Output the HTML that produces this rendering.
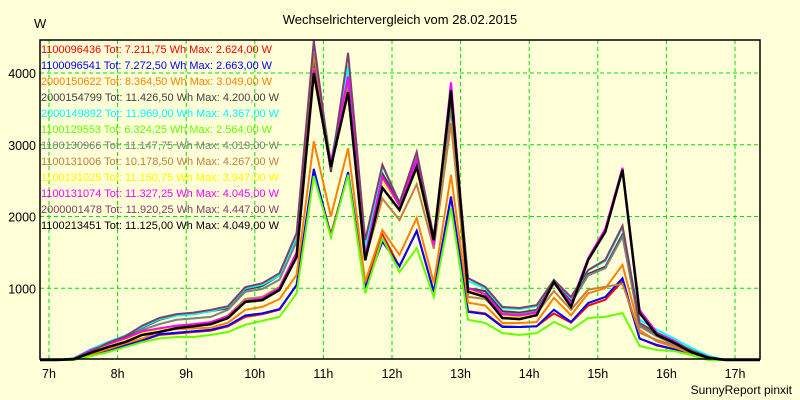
<!DOCTYPE html>
<html><head><meta charset="utf-8">
<style>
html,body{margin:0;padding:0;background:#ffffd8;}
svg{display:block;font-family:"Liberation Sans",sans-serif;}
</style></head>
<body>
<svg id="chart" width="800" height="400" viewBox="0 0 800 400" xmlns="http://www.w3.org/2000/svg">
<rect x="0" y="0" width="800" height="400" fill="#ffffd8"/>
<text x="400" y="24" text-anchor="middle" font-size="13" fill="#000">Wechselrichtervergleich vom 28.02.2015</text>
<text x="34" y="28" font-size="13" fill="#000">W</text>
<text x="792" y="394" text-anchor="end" font-size="12" fill="#000">SunnyReport pinxit</text>
<g id="grid"></g>
<g id="series"></g>
<g id="axes"></g>
<g id="legend"></g>
</svg>
<script>
const hourLabels = ["7h","8h","9h","10h","11h","12h","13h","14h","15h","16h","17h"];
const yTicks = [1000,2000,3000,4000];
const seriesNames = ["1100096436","1100096541","2000150622","2000154799","2000149892","1100129553","1100130966","1100131006","1100131025","1100131074","2000001478","1100213451"];
const seriesTotals = ["7.211,75","7.272,50","8.364,50","11.426,50","11.969,00","6.324,25","11.147,75","10.178,50","11.150,75","11.327,25","11.920,25","11.125,00"];
const seriesMax = ["2.624,00","2.663,00","3.049,00","4.200,00","4.367,00","2.564,00","4.019,00","4.267,00","3.947,00","4.045,00","4.447,00","4.049,00"];
const seriesColors = ["#ff0000","#0000ff","#ff8000","#404040","#00ffff","#66ff00","#808080","#c08040","#ffff00","#ff00ff","#804066","#000000"];
const sampleCount = 40;
const red = [0,5,60,120,200,270,350,370,390,410,470,600,640,700,1045,2624,1750,2600,1000,1750,1300,1800,950,2280,680,650,470,460,470,650,520,760,840,1100,300,200,150,80,20,0];
const blue = [0,5,65,125,205,275,360,380,400,420,480,620,650,710,1045,2663,1720,2620,1000,1650,1310,1800,950,2270,670,640,460,460,470,700,530,795,880,1140,300,210,150,80,20,0];
const orange = [0,5,80,150,230,300,400,430,440,450,520,700,740,850,1185,3049,2000,2950,1090,1810,1465,1980,1075,2580,800,760,515,515,530,865,625,930,1000,1325,420,260,180,90,20,0];
const darkgray = [0,10,110,220,310,450,560,620,640,680,720,980,1030,1180,1700,4200,2620,4100,1550,2600,2200,2800,1650,3600,1000,960,680,660,700,1090,820,1200,1300,1750,480,340,230,120,30,0];
const cyan = [0,25,150,250,340,460,570,620,640,680,740,1000,1050,1180,1700,4300,2750,4100,1550,2700,2200,2850,1700,3700,1100,1000,720,710,750,1120,860,1250,1380,1850,560,420,300,170,60,0];
const green = [0,0,55,110,180,250,300,320,320,350,390,490,545,600,930,2564,1715,2580,930,1700,1225,1560,880,2120,560,515,375,350,375,530,420,585,600,655,195,140,125,70,0,0];
const gray = [0,10,110,210,290,420,500,560,580,600,700,950,990,1120,1650,4019,2650,3900,1450,2500,2150,2750,1650,3500,950,900,650,640,680,1060,790,1180,1280,1720,470,330,220,110,30,0];
const brown = [0,10,110,190,270,380,430,470,490,520,620,850,880,1020,1500,4267,2750,3800,1400,2250,1950,2450,1550,3300,880,850,620,620,650,960,700,980,1020,1060,380,280,200,100,30,0];
const yellow = [0,15,120,200,280,380,420,460,490,520,600,800,850,990,1450,3950,2700,3700,1420,2500,2150,2650,1650,3700,980,900,610,590,640,1080,760,1400,1790,2640,680,360,250,120,35,0];
const magenta = [0,20,140,220,300,400,440,480,500,530,610,820,860,1000,1500,4045,2750,3950,1450,2550,2150,2800,1600,3870,1000,920,640,620,660,1100,780,1420,1830,2680,700,380,270,130,40,0];
const purple = [0,20,120,240,330,480,585,640,660,700,750,1015,1070,1210,1770,4447,2650,4280,1670,2720,2190,2900,1710,3670,1140,1020,740,725,765,1115,880,1255,1395,1870,515,375,250,140,40,0];
const black = [0,10,100,180,250,350,390,445,470,500,585,810,835,975,1435,4000,2690,3735,1390,2400,2090,2690,1670,3760,950,880,585,570,625,1090,740,1395,1785,2650,655,350,240,110,30,0];
const seriesValues = [red,blue,orange,darkgray,cyan,green,gray,brown,yellow,magenta,purple,black];

const NS = "http://www.w3.org/2000/svg";
const L = 40, R = 760, T = 40, B = 359;
function xScale(h){ return 49 + h * 68.6; }
function yScale(v){ return 360 - v * 0.07175; }
function sampleHour(k){ return 0.11 + k * 0.25; }
function mk(tag, attrs){ const e = document.createElementNS(NS, tag); for (const k in attrs) e.setAttribute(k, attrs[k]); return e; }

const grid = document.getElementById('grid');
const axes = document.getElementById('axes');
const seriesG = document.getElementById('series');
const legend = document.getElementById('legend');

hourLabels.forEach((lab, i) => {
  const x = xScale(i);
  const gl = mk('line', {x1:x, y1:T, x2:x, y2:B, stroke:'#00e000', 'stroke-dasharray':'4,3', 'stroke-width':1});
  
  
  grid.appendChild(gl);
  const t = mk('text', {x:x, y:378, 'text-anchor':'middle', 'font-size':12.5, fill:'#000'});
  t.textContent = lab;
  
  
  axes.appendChild(t);
});
yTicks.forEach(v => {
  const y = yScale(v);
  const gl = mk('line', {x1:L, y1:y, x2:R, y2:y, stroke:'#00e000', 'stroke-dasharray':'4,3', 'stroke-width':1});
  
  
  grid.appendChild(gl);
  const t = mk('text', {x:36, y:y+5, 'text-anchor':'end', 'font-size':12.5, fill:'#000'});
  t.textContent = String(v);
  
  
  axes.appendChild(t);
});

seriesValues.forEach((vals, si) => {
  const pts = [[L, yScale(0)]];
  for (let k = 0; k < sampleCount; k++) pts.push([xScale(sampleHour(k)), yScale(vals[k])]);
  pts.push([R, yScale(0)]);
  const p = mk('polyline', {points: pts.map(p => p[0].toFixed(1)+','+p[1].toFixed(1)).join(' '), fill:'none', stroke:seriesColors[si], 'stroke-width': si===11 ? 2.5 : 2});
  
  
  seriesG.appendChild(p);
});

const frame = mk('path', {d:`M${L},${T} H${R} V${B} H${L} Z`, fill:'none', stroke:'#000', 'stroke-width':1.5});


axes.appendChild(frame);

seriesNames.forEach((n, i) => {
  const t = mk('text', {x:41, y:53 + i*16, 'font-size':11.3, fill:seriesColors[i]});
  t.textContent = n + ' Tot: ' + seriesTotals[i] + ' Wh Max: ' + seriesMax[i] + ' W';
  const isShort = seriesTotals[i].length < 9;
  t.setAttribute('textLength', isShort ? 231 : 238);
  t.setAttribute('lengthAdjust', 'spacingAndGlyphs');
  
  
  legend.appendChild(t);
});
</script>
</body></html>
